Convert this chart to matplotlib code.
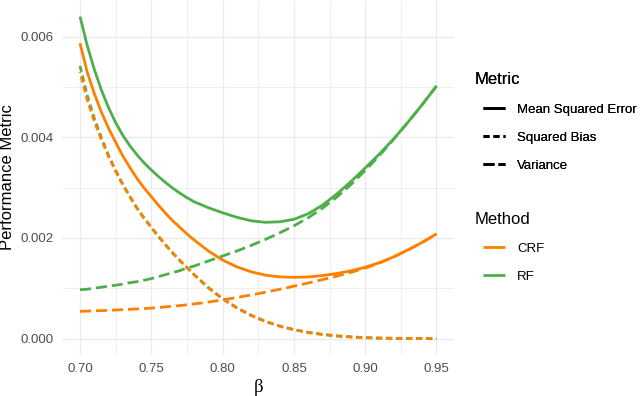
import matplotlib
matplotlib.use("Agg")
import matplotlib.pyplot as plt
from matplotlib.lines import Line2D
from matplotlib.legend_handler import HandlerLine2D
from matplotlib.ticker import MultipleLocator, FixedLocator
import numpy as np

plt.rcParams['font.family'] = ['Liberation Sans', 'DejaVu Sans']
plt.rcParams['lines.scale_dashes'] = False

beta = [0.700, 0.705, 0.710, 0.715, 0.720, 0.725, 0.730, 0.735, 0.740, 0.745,
        0.750, 0.755, 0.760, 0.765, 0.770, 0.775, 0.780, 0.785, 0.790, 0.795,
        0.800, 0.81, 0.82, 0.83, 0.84, 0.85, 0.86, 0.87, 0.88, 0.89, 0.90,
        0.91, 0.92, 0.93, 0.94, 0.95]

rf_mse = [0.00640, 0.00583, 0.00535, 0.00494, 0.00459, 0.00429, 0.00404, 0.00383,
          0.00365, 0.00349, 0.00335, 0.00322, 0.00310, 0.00299, 0.00289, 0.00280,
          0.00272, 0.00266, 0.00260, 0.00255, 0.00250, 0.00241, 0.00234, 0.00231,
          0.00232, 0.00237, 0.00248, 0.00265, 0.00287, 0.00312, 0.00339, 0.00367,
          0.00397, 0.00430, 0.00465, 0.00502]
rf_bias = [0.00542, 0.00484, 0.00438, 0.00399, 0.00364, 0.00334, 0.00306, 0.00282,
           0.00259, 0.00239, 0.00221, 0.00203, 0.00186, 0.00170, 0.00155, 0.00141,
           0.00127, 0.00114, 0.00101, 0.00090, 0.00079, 0.00061, 0.00046, 0.00034,
           0.000247, 0.000176, 0.000121, 0.000081, 0.000052, 0.000031, 0.000017,
           0.000008, 0.000004, 0.000002, 0.000001, 0.0]
rf_var = [0.00097, 0.00098, 0.00100, 0.00102, 0.00104, 0.00106, 0.00108, 0.00111,
          0.00113, 0.00116, 0.00119, 0.00123, 0.00127, 0.00131, 0.00135, 0.00140,
          0.00144, 0.00149, 0.00154, 0.00159, 0.00164, 0.00174, 0.00185, 0.00197,
          0.00210, 0.00224, 0.00240, 0.00259, 0.00281, 0.00306, 0.00334, 0.00364,
          0.00396, 0.00430, 0.00465, 0.00502]

crf_mse = [0.00587, 0.00530, 0.00487, 0.00450, 0.00418, 0.00390, 0.00363, 0.00340,
           0.00318, 0.00299, 0.00282, 0.00265, 0.00249, 0.00234, 0.00221, 0.00208,
           0.00196, 0.00185, 0.00174, 0.00165, 0.00156, 0.001425, 0.001326, 0.00126,
           0.001225, 0.001216, 0.001224, 0.001251, 0.001292, 0.001346, 0.001417,
           0.001508, 0.001624, 0.001762, 0.001911, 0.00208]
crf_bias = [0.00530, 0.00475, 0.00432, 0.00395, 0.00362, 0.00333, 0.00306, 0.00282,
            0.00259, 0.00239, 0.00221, 0.00203, 0.00186, 0.00170, 0.00155, 0.00141,
            0.00127, 0.00114, 0.00101, 0.00090, 0.00079, 0.00061, 0.00046, 0.00034,
            0.000247, 0.000176, 0.000121, 0.000081, 0.000052, 0.000031, 0.000017,
            0.000008, 0.000004, 0.000002, 0.000001, 0.0]
crf_var = [0.000540, 0.000545, 0.000550, 0.000555, 0.000560, 0.000567, 0.000573,
           0.000580, 0.000588, 0.000596, 0.000605, 0.000616, 0.000628, 0.000641,
           0.000655, 0.000670, 0.000687, 0.000705, 0.000725, 0.000746, 0.000768,
           0.000815, 0.000866, 0.000920, 0.000978, 0.00104, 0.001103, 0.00117,
           0.00124, 0.001315, 0.00140, 0.00150, 0.00162, 0.00176, 0.00191, 0.00208]

x_ticks = [0.70, 0.75, 0.80, 0.85, 0.90, 0.95]
x_tick_labels = ["0.70", "0.75", "0.80", "0.85", "0.90", "0.95"]
y_ticks = [0.000, 0.002, 0.004, 0.006]
y_tick_labels = ["0.000", "0.002", "0.004", "0.006"]

metrics = ["Mean Squared Error", "Squared Bias", "Variance"]
methods = ["CRF", "RF"]
colors = {"CRF": "#FF7F00", "RF": "#4DAF4A"}

PX = 72.0 / 100.0  # points per pixel
LW = 2.0
dash_var = (0, (11 * PX, 5 * PX))
dash_bias_rf = (0, (6 * PX, 4 * PX))
dash_bias_crf = (5 * PX, (6 * PX, 4 * PX))

fig = plt.figure(figsize=(6.4, 3.96), dpi=100)
ax = fig.add_axes([62.2 / 640, 41.4 / 396, (454.3 - 62.2) / 640, (354.6 - 0.5) / 396])

series = {
    "RF": (rf_mse, rf_bias, rf_var),
    "CRF": (crf_mse, crf_bias, crf_var),
}
for m in ["RF", "CRF"]:
    mse, bias, var = series[m]
    c = colors[m]
    ax.plot(beta, mse, color=c, lw=LW, solid_capstyle='butt',
            solid_joinstyle='round', zorder=3)
    ax.plot(beta, var, color=c, lw=LW, linestyle=dash_var,
            dash_capstyle='butt', dash_joinstyle='round', zorder=3)
    ax.plot(beta, bias, color=c, lw=LW,
            linestyle=dash_bias_rf if m == "RF" else dash_bias_crf,
            dash_capstyle='butt', dash_joinstyle='round', zorder=4)

allv = np.concatenate([rf_mse, rf_bias, rf_var, crf_mse, crf_bias, crf_var])
lo, hi = allv.min(), allv.max()
pad = 0.05 * (hi - lo)
ax.set_ylim(lo - pad, hi + pad)
xr = max(beta) - min(beta)
ax.set_xlim(min(beta) - 0.05 * xr, max(beta) + 0.05 * xr)

ax.xaxis.set_major_locator(FixedLocator(x_ticks))
ax.set_xticklabels(x_tick_labels)
ax.xaxis.set_minor_locator(MultipleLocator(0.025))
ax.yaxis.set_major_locator(FixedLocator(y_ticks))
ax.set_yticklabels(y_tick_labels)
ax.yaxis.set_minor_locator(MultipleLocator(0.001))

ax.grid(which='major', color='#EBEBEB', lw=1.0, zorder=0)
ax.grid(which='minor', color='#EBEBEB', lw=0.55, zorder=0)
ax.set_axisbelow(True)
for s in ax.spines.values():
    s.set_visible(False)
ax.tick_params(which='both', length=0)
ax.tick_params(axis='both', labelsize=9.5, labelcolor='#4D4D4D')
ax.tick_params(axis='x', pad=6)
ax.tick_params(axis='y', pad=6)

ax.set_ylabel("Performance Metric", fontsize=12, color='black')
ax.yaxis.set_label_coords((15 - 62.2) / 392.1, 0.5)
ax.set_xlabel("β", fontsize=13.5, family=['Liberation Serif', 'DejaVu Serif'],
              color='black', labelpad=3)

metric_handles = [
    Line2D([], [], color='black', lw=LW, solid_capstyle='butt'),
    Line2D([], [], color='black', lw=LW, linestyle=(0, (6 * PX, 4 * PX)), dash_capstyle='butt'),
    Line2D([], [], color='black', lw=LW, linestyle=(0, (11 * PX, 4 * PX)), dash_capstyle='butt'),
]
method_handles = [Line2D([], [], color=colors[m], lw=LW, solid_capstyle='butt') for m in methods]

FS = 9.5
hmap = {Line2D: HandlerLine2D(xpad=8 * PX / FS)}
common = dict(loc='upper left', frameon=False, fontsize=FS, title_fontsize=12,
              handlelength=30 * PX / FS, handletextpad=12 * PX / FS,
              labelspacing=1.2, borderpad=0, borderaxespad=0, handler_map=hmap)

leg1 = fig.legend(metric_handles, metrics, title="Metric",
                  bbox_to_anchor=(475 / 640, 1 - 72.5 / 396), **common)
leg1._legend_box.align = "left"
leg2 = fig.legend(method_handles, methods, title="Method",
                  bbox_to_anchor=(475 / 640, 1 - 211.5 / 396), **common)
leg2._legend_box.align = "left"
fig.add_artist(leg1)

fig.savefig("out.png", dpi=100, facecolor='white')
